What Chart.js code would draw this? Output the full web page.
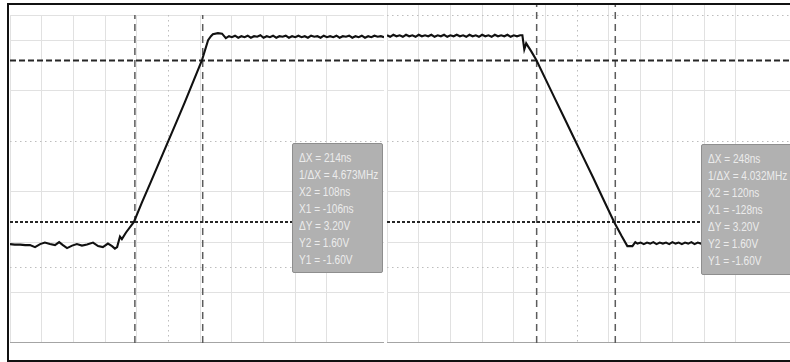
<!DOCTYPE html>
<html>
<head>
<meta charset="utf-8">
<script src="https://cdn.jsdelivr.net/npm/chart.js@4.4.1/dist/chart.umd.min.js"></script>
<style>
    html, body { margin: 0; padding: 0; background: #fff; overflow: hidden; width: 790px; height: 362px; }
    #frame { position: absolute; left: 7px; top: 3px; width: 820px; height: 355px; border: 2px solid #111; }
    canvas { position: absolute; }
    #leftScope { left: 10px; top: 15px; }
    #rightScope { left: 387px; top: 5px; }
    .readout { position: absolute; background: #b1b1b1; border: 1px solid #8e8e8e; border-radius: 2px; box-sizing: border-box; padding: 6px 0 0 6px; }
    .readout div { font-family: "Liberation Sans", Arial, sans-serif; font-size: 12px; line-height: 17px; color: #ececec; white-space: nowrap; transform: scaleX(0.84); transform-origin: left center; }
</style>
</head>
<body>
<div id="frame"></div>
<canvas id="leftScope" width="374" height="328"></canvas>
<canvas id="rightScope" width="403" height="338"></canvas>
<div class="readout" id="leftReadout" style="left:292px; top:143px; width:91px; height:130px;"></div>
<div class="readout" id="rightReadout" style="left:701px; top:144px; width:100px; height:131px;"></div>
<script>
// rising edge capture (time in ns, volts)
const leftTime = [
    -500, -485, -468, -452, -437, -421, -405, -390, -374, -358,
    -345, -333, -320, -304, -289, -273, -257, -238, -222, -207,
    -191, -178, -169, -162, -153, -147, -134, -109, -84, -58,
    -30, 0, 28, 52, 80, 106, 125, 134, 140, 156,
    169, 181, 191, 200, 210, 220, 230, 240, 250, 260,
    270, 280, 290, 300, 310, 320, 330, 340, 350, 360,
    370, 380, 390, 400, 410, 420, 430, 440, 450, 460,
    470, 480, 490, 500, 510, 520, 530, 540, 550, 560,
    570, 580, 590, 600, 610, 620, 630, 640, 650, 660,
    670, 680
];
const leftVolts = [
    -2.04, -2.05, -2.05, -2.06, -2.06, -2.10, -2.04, -2.01, -2.04, -2.06,
    -2.00, -2.06, -2.12, -2.07, -2.04, -2.07, -2.05, -2.01, -2.08, -2.10,
    -2.03, -2.08, -2.13, -2.10, -1.89, -1.94, -1.81, -1.60, -1.22, -0.84,
    -0.43, 0.01, 0.42, 0.78, 1.21, 1.61, 2.00, 2.08, 2.12, 2.14,
    2.13, 2.04, 2.08, 2.06, 2.09, 2.05, 2.08, 2.06, 2.09, 2.05,
    2.08, 2.07, 2.10, 2.05, 2.08, 2.06, 2.09, 2.05, 2.08, 2.07,
    2.09, 2.05, 2.08, 2.06, 2.09, 2.06, 2.08, 2.05, 2.09, 2.07,
    2.08, 2.05, 2.09, 2.06, 2.08, 2.06, 2.09, 2.05, 2.08, 2.07,
    2.09, 2.05, 2.08, 2.06, 2.09, 2.05, 2.08, 2.06, 2.09, 2.07,
    2.08, 2.06
];

// falling edge capture
const rightTime = [
    -600, -590, -580, -570, -560, -550, -540, -530, -520, -510,
    -500, -490, -480, -470, -460, -450, -440, -430, -420, -410,
    -400, -390, -380, -370, -360, -350, -340, -330, -320, -310,
    -300, -290, -280, -270, -260, -250, -240, -230, -220, -210,
    -200, -190, -180, -173, -167, -161, -155, -145, -129, -100,
    -70, -40, -10, 20, 50, 80, 117, 140, 158, 174,
    183, 190, 200, 210, 220, 230, 240, 250, 260, 270,
    280, 290, 300, 310, 320, 330, 340, 350, 360, 370,
    380, 390, 400, 410, 420, 430, 440, 450, 460, 470,
    480, 490, 500, 510, 520, 530, 540, 550, 560, 570,
    580, 590, 600, 610, 620, 630, 640, 650, 660, 670
];
const rightVolts = [
    2.10, 2.07, 2.11, 2.08, 2.10, 2.07, 2.11, 2.08, 2.10, 2.07,
    2.11, 2.08, 2.10, 2.08, 2.11, 2.07, 2.10, 2.08, 2.11, 2.07,
    2.10, 2.08, 2.11, 2.08, 2.10, 2.07, 2.11, 2.08, 2.10, 2.07,
    2.11, 2.08, 2.10, 2.07, 2.11, 2.08, 2.10, 2.08, 2.11, 2.07,
    2.10, 2.08, 2.10, 2.10, 1.82, 1.94, 1.88, 1.78, 1.61, 1.23,
    0.84, 0.45, 0.06, -0.33, -0.72, -1.12, -1.61, -1.88, -2.08, -2.08,
    -2.00, -2.03, -2.01, -2.04, -2.01, -2.03, -2.00, -2.04, -2.01, -2.03,
    -2.01, -2.04, -2.00, -2.03, -2.01, -2.04, -2.01, -2.03, -2.00, -2.04,
    -2.01, -2.03, -2.01, -2.04, -2.00, -2.03, -2.01, -2.04, -2.01, -2.03,
    -2.00, -2.04, -2.01, -2.03, -2.01, -2.04, -2.00, -2.03, -2.01, -2.04,
    -2.01, -2.03, -2.00, -2.04, -2.01, -2.03, -2.01, -2.04, -2.00, -2.03
];

// cursor settings: [left capture, right capture]
const cursorX1 = [-106, -128];   // ns
const cursorX2 = [108, 120];     // ns
const cursorY1 = [-1.6, -1.6];   // V
const cursorY2 = [1.6, 1.6];     // V

// visible window of each capture
const timeMin = [-500, -600];
const timeMax = [680, 671];
const voltMin = [-4, -4];
const voltMax = [2.5, 2.7];

/* dotted centre lines of the graticule */
const graticuleDots = {
    id: 'graticuleDots',
    beforeDatasetsDraw(chart, args, opts) {
        const { ctx, chartArea: a, scales: { x, y } } = chart;
        ctx.save();
        ctx.strokeStyle = '#bdbdbd';
        ctx.lineWidth = 1;
        ctx.setLineDash([1.5, 3.5]);
        opts.levels.forEach(v => {
            const py = Math.round(y.getPixelForValue(v)) + 0.5;
            ctx.beginPath();
            ctx.moveTo(a.left, py);
            ctx.lineTo(a.right, py);
            ctx.stroke();
        });
        const px = Math.round(x.getPixelForValue(0)) + 0.5;
        ctx.beginPath();
        ctx.moveTo(px, a.top);
        ctx.lineTo(px, a.bottom);
        ctx.stroke();
        ctx.restore();
    }
};

function cursorLine(points, dash, width, color) {
    return {
        data: points,
        borderColor: color,
        borderWidth: width,
        borderDash: dash,
        pointRadius: 0,
        order: 2
    };
}

function drawScope(canvasId, i, times, volts, dottedLevels) {
    const ctx = document.getElementById(canvasId).getContext('2d');
    const trace = times.map((t, k) => ({ x: t, y: volts[k] }));

    return new Chart(ctx, {
        type: 'line',
        data: {
            datasets: [
                {
                    data: trace,
                    borderColor: '#111111',
                    borderWidth: 2.1,
                    pointRadius: 0,
                    tension: 0,
                    order: 0
                },
                cursorLine([{ x: timeMin[i], y: cursorY2[i] }, { x: timeMax[i], y: cursorY2[i] }], [6, 3], 2, '#262626'),
                cursorLine([{ x: timeMin[i], y: cursorY1[i] }, { x: timeMax[i], y: cursorY1[i] }], [3, 2], 2, '#262626'),
                cursorLine([{ x: cursorX1[i], y: voltMin[i] }, { x: cursorX1[i], y: voltMax[i] }], [7, 5], 1.5, '#5c5c5c'),
                cursorLine([{ x: cursorX2[i], y: voltMin[i] }, { x: cursorX2[i], y: voltMax[i] }], [7, 5], 1.5, '#5c5c5c')
            ]
        },
        options: {
            responsive: false,
            animation: false,
            layout: { padding: 0 },
            plugins: {
                legend: { display: false },
                tooltip: { enabled: false },
                graticuleDots: { levels: dottedLevels }
            },
            scales: {
                x: {
                    type: 'linear',
                    min: timeMin[i],
                    max: timeMax[i],
                    ticks: { display: false, stepSize: 100 },
                    border: { display: false },
                    grid: {
                        drawTicks: false,
                        color: c => (c.tick.value === 0 ? 'rgba(0,0,0,0)' : '#e1e1e1')
                    }
                },
                y: {
                    min: voltMin[i],
                    max: voltMax[i],
                    ticks: { display: false, stepSize: 1 },
                    border: { display: false },
                    grid: {
                        drawTicks: false,
                        color: c => {
                            const v = c.tick.value;
                            if (v === voltMin[i]) return '#a4a4a4';
                            if (v === 0 || v > 2.6) return 'rgba(0,0,0,0)';
                            return '#e1e1e1';
                        },
                        lineWidth: c => (c.tick.value === voltMin[i] ? 1.5 : 1)
                    }
                }
            }
        },
        plugins: [graticuleDots]
    });
}

function fillReadout(id, i) {
    const dx = cursorX2[i] - cursorX1[i];
    const dy = cursorY2[i] - cursorY1[i];
    const lines = [
        `ΔX = ${dx}ns`,
        `1/ΔX = ${(1000 / dx).toFixed(3)}MHz`,
        `X2 = ${cursorX2[i]}ns`,
        `X1 = ${cursorX1[i]}ns`,
        `ΔY = ${dy.toFixed(2)}V`,
        `Y2 = ${cursorY2[i].toFixed(2)}V`,
        `Y1 = ${cursorY1[i].toFixed(2)}V`
    ];
    const box = document.getElementById(id);
    lines.forEach(text => {
        const row = document.createElement('div');
        row.textContent = text;
        box.appendChild(row);
    });
}

drawScope('leftScope', 0, leftTime, leftVolts, [0, -2.5]);
drawScope('rightScope', 1, rightTime, rightVolts, [0, -2.5, 2.5]);
fillReadout('leftReadout', 0);
fillReadout('rightReadout', 1);
</script>
</body>
</html>
